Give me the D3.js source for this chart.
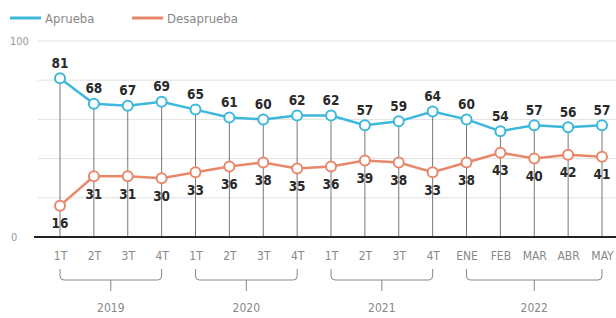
<!DOCTYPE html>
<html><head><meta charset="utf-8">
<script src="https://cdn.jsdelivr.net/npm/d3@7"></script>
<style>
html,body{margin:0;padding:0;background:#fff;}
svg{display:block;}
</style></head>
<body>
<svg id="c" width="616" height="318"></svg>
<script>
const categories = ["1T","2T","3T","4T","1T","2T","3T","4T","1T","2T","3T","4T","ENE","FEB","MAR","ABR","MAY"];
const apruebe = [81,68,67,69,65,61,60,62,62,57,59,64,60,54,57,56,57];
const desaprueba = [16,31,31,30,33,36,38,35,36,39,38,33,38,43,40,42,41];
const years = [{label:"2019",from:0,to:3},{label:"2020",from:4,to:7},{label:"2021",from:8,to:11},{label:"2022",from:12,to:16}];
const yTicks = [0,100];
const gridValues = [20,40,60,80,100];
const seriesNames = ["Aprueba","Desaprueba"];

const blue = "#3db7db", orange = "#e9876b";
const font = "'DejaVu Sans Condensed','Liberation Sans Narrow',Roboto,sans-serif";
const svg = d3.select("#c");

const x = d3.scalePoint().domain(d3.range(categories.length)).range([60, 602]);
const y = d3.scaleLinear().domain([0,100]).range([237, 41]);

// gridlines
svg.append("g").selectAll("line").data(gridValues).join("line")
  .attr("x1", 38).attr("x2", 616)
  .attr("y1", d=>y(d)).attr("y2", d=>y(d))
  .attr("stroke", "#e2e2e2").attr("stroke-width", 1);

// y labels
svg.append("g").selectAll("text").data(yTicks).join("text")
  .attr("x", d=> d===100 ? 10 : 11).attr("y", d=>y(d)).attr("dy","0.35em")
  .attr("font-family", font).attr("font-size", 11).attr("fill", "#999")
  .text(d=>d);

// vertical drop lines
svg.append("g").selectAll("line").data(apruebe).join("line")
  .attr("x1",(d,i)=>x(i)).attr("x2",(d,i)=>x(i))
  .attr("y1", d=>y(d)).attr("y2", y(0))
  .attr("stroke", "#777").attr("stroke-width", 1);

// axis baseline
svg.append("line").attr("x1", 34).attr("x2", 616).attr("y1", y(0)).attr("y2", y(0))
  .attr("stroke", "#222").attr("stroke-width", 2);

// x axis labels
const xAxis = d3.axisBottom(x).tickSize(0).tickFormat(i=>categories[i]);
const gx = svg.append("g").attr("transform", `translate(0,${y(0)})`).call(xAxis);
gx.select(".domain").remove();
gx.selectAll("text").attr("font-family", font).attr("font-size", 12).attr("fill", "#888").attr("y", 14);

// brackets
const bg = svg.append("g");
years.forEach(yr=>{
  const x0 = x(yr.from), x1 = x(yr.to), top = 269, bot = 280, r = 4;
  bg.append("path")
    .attr("d", `M${x0},${top} L${x0},${bot-r} Q${x0},${bot} ${x0+r},${bot} L${x1-r},${bot} Q${x1},${bot} ${x1},${bot-r} L${x1},${top}`)
    .attr("fill","none").attr("stroke","#888").attr("stroke-width",1);
  const mid = (x0+x1)/2;
  bg.append("line").attr("x1",mid).attr("x2",mid).attr("y1",bot).attr("y2",291)
    .attr("stroke","#888").attr("stroke-width",1);
  bg.append("text").attr("x",mid).attr("y",308).attr("dy","0.35em").attr("text-anchor","middle")
    .attr("font-family",font).attr("font-size",12).attr("fill","#888").text(yr.label);
});

// lines
const line = d3.line().x((d,i)=>x(i)).y(d=>y(d));
[[apruebe, blue],[desaprueba, orange]].forEach(([data,col])=>{
  svg.append("path").datum(data).attr("d", line)
    .attr("fill","none").attr("stroke",col).attr("stroke-width",2.5);
  svg.append("g").selectAll("circle").data(data).join("circle")
    .attr("cx",(d,i)=>x(i)).attr("cy",d=>y(d)).attr("r",5)
    .attr("fill","#fff").attr("stroke",col).attr("stroke-width",2);
});

// value labels
svg.append("g").selectAll("text").data(apruebe).join("text")
  .attr("x",(d,i)=>x(i)).attr("y",d=>y(d)-15).attr("dy","0.35em").attr("text-anchor","middle")
  .attr("font-family",font).attr("font-weight","bold").attr("font-size",13.5).attr("fill","#2a2a2a")
  .text(d=>d);
svg.append("g").selectAll("text").data(desaprueba).join("text")
  .attr("x",(d,i)=>x(i)).attr("y",d=>y(d)+18).attr("dy","0.35em").attr("text-anchor","middle")
  .attr("font-family",font).attr("font-weight","bold").attr("font-size",13.5).attr("fill","#2a2a2a")
  .text(d=>d);

// legend
const leg = svg.append("g");
[[seriesNames[0], blue, 10],[seriesNames[1], orange, 132]].forEach(([name,col,lx])=>{
  leg.append("line").attr("x1",lx).attr("x2",lx+31).attr("y1",18).attr("y2",18)
    .attr("stroke",col).attr("stroke-width",3);
  leg.append("text").attr("x",lx+35).attr("y",18).attr("dy","0.35em")
    .attr("font-family",font).attr("font-size",13).attr("fill","#888").text(name);
});
</script>
</body></html>
